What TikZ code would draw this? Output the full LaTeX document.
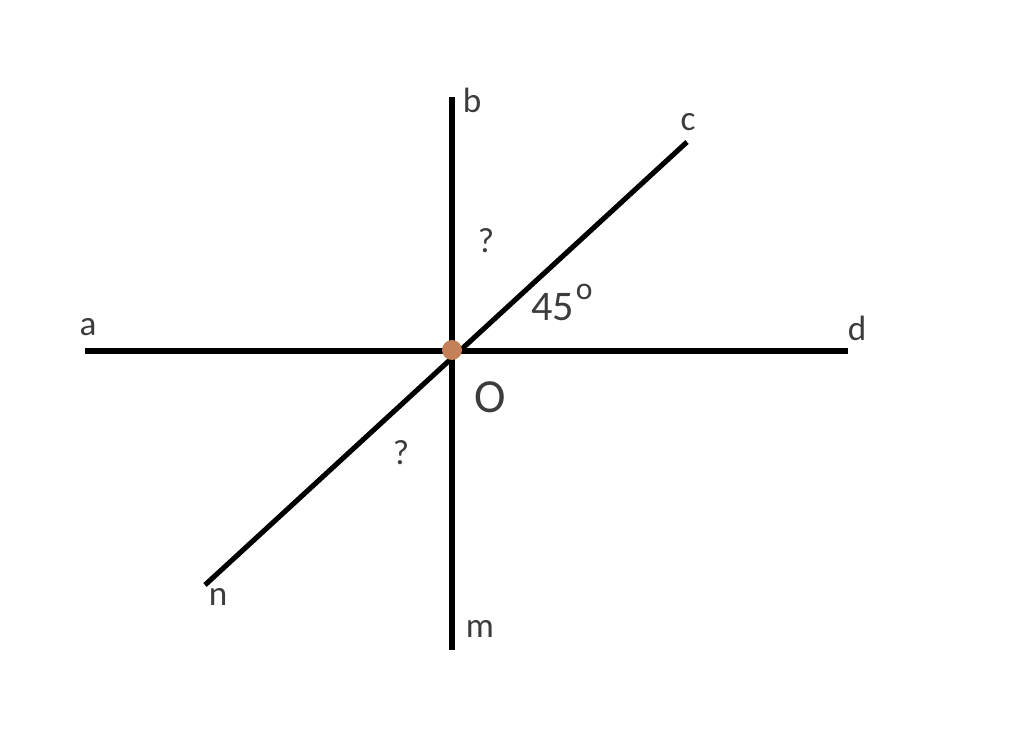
\documentclass[tikz,border=0pt]{standalone}
\usepackage{fontspec}
\setmainfont{Carlito}
\usetikzlibrary{positioning}
\definecolor{dotbrown}{RGB}{196,128,88}
\definecolor{txtgrey}{RGB}{60,60,60}

\begin{document}
\begin{tikzpicture}[x=0.2mm,y=-0.2mm,
ray/.style={line width=2.9pt,black},
lbl/.style={text=txtgrey,font=\fontsize{20}{22}\selectfont,inner sep=1pt}]

\useasboundingbox (0,0) rectangle (1024,749);

% the point O and the ends of the lines
\coordinate(O) at (452,350);
\coordinate(a) at (85,351);
\coordinate(d) at (848,351);
\coordinate(b) at (452,97);
\coordinate(m) at (452,650);
\coordinate(c) at (687,142);
\coordinate(n) at (205,585);

\draw[ray] (a)--(d);
\draw[ray] (b)--(m);
\draw[ray] (n)--(c);

\fill[dotbrown] (O) circle (10);

\node[lbl](la) at (88,327){a};
\node[lbl](lb) at (472,100){b};
\node[lbl](lc) at (688,122){c};
\node[lbl](ld) at (857,328){d};
\node[lbl](ln) at (218,597){n};
\node[lbl](lm) at (480,629){m};
\node[lbl,font=\fontsize{27}{30}\selectfont](lO) at (490,397){O};
\node[lbl](q1) at (486,241){?};
\node[lbl](q2) at (401,453){?};
\node[lbl,font=\fontsize{24}{26}\selectfont](ang) at (562,302){45\kern1pt\raisebox{4.2mm}{\fontsize{18}{18}\selectfont o}};
\end{tikzpicture}
\end{document}
